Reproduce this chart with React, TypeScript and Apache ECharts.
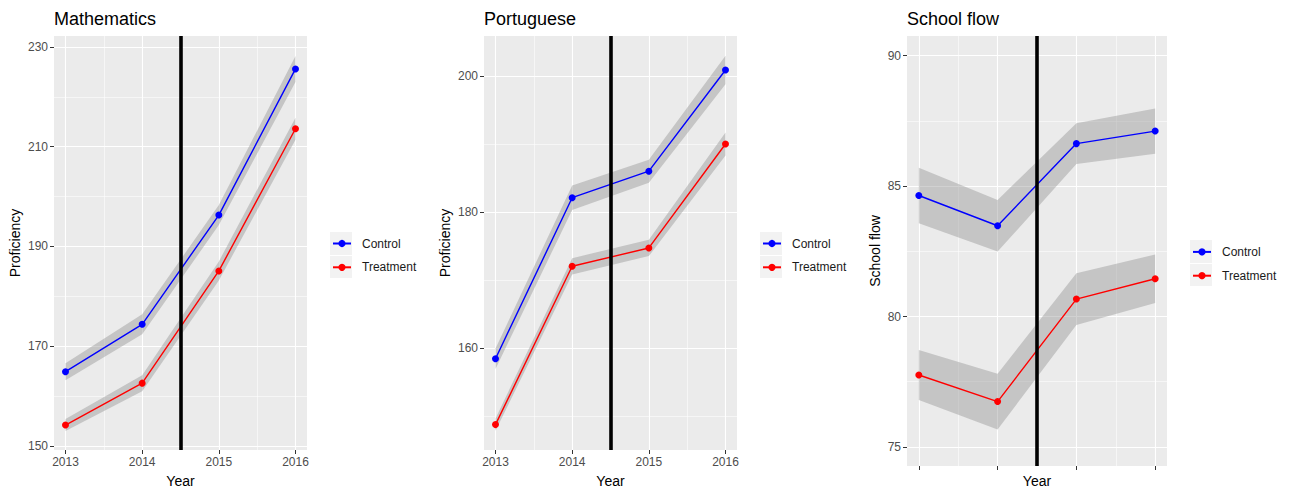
import React, { useEffect, useRef } from 'react';
import * as echarts from 'echarts';

const years = [2013, 2014, 2015, 2016];
const minorYears = [2013.5, 2014.5, 2015.5];
const seriesNames = ['Control', 'Treatment'];
const treatmentStart = 2014.5;

const mathControl = [164.9, 174.4, 196.3, 225.6];
const mathControlCI = [1.7, 2.0, 2.0, 2.6];
const mathTreatment = [154.2, 162.6, 185.1, 213.6];
const mathTreatmentCI = [1.2, 1.6, 1.9, 2.2];
const mathTicks = [150, 170, 190, 210, 230];
const mathMinor = [160, 180, 200, 220];

const portControl = [158.4, 182.1, 186.0, 200.9];
const portControlCI = [1.5, 1.8, 1.7, 2.1];
const portTreatment = [148.7, 172.0, 174.7, 190.0];
const portTreatmentCI = [0.9, 1.2, 1.2, 1.7];
const portTicks = [160, 180, 200];
const portMinor = [150, 170, 190];

const flowControl = [84.64, 83.48, 86.63, 87.11];
const flowControlCI = [1.06, 0.99, 0.78, 0.87];
const flowTreatment = [77.76, 76.74, 80.67, 81.45];
const flowTreatmentCI = [0.96, 1.07, 0.99, 0.93];
const flowTicks = [75, 80, 85, 90];
const flowMinor = [77.5, 82.5, 87.5];

const FONT = "'Liberation Sans', Arial, sans-serif";
const BLUE = '#0000FF';
const RED = '#FF0000';

const panels = [
  {
    title: 'Mathematics', yName: 'Proficiency', showXLabels: true,
    control: mathControl, controlCI: mathControlCI, treatment: mathTreatment, treatmentCI: mathTreatmentCI,
    ticks: mathTicks, minor: mathMinor, yMin: 149.2, yMax: 232.2,
    left: 54, top: 36, width: 253, height: 414, xNameGap: 24, yNameGap: 32,
    legendLeft: 332, legendTop: 237.5, keyTop: 232,
  },
  {
    title: 'Portuguese', yName: 'Proficiency', showXLabels: true,
    control: portControl, controlCI: portControlCI, treatment: portTreatment, treatmentCI: portTreatmentCI,
    ticks: portTicks, minor: portMinor, yMin: 144.96, yMax: 205.9,
    left: 484, top: 36, width: 253, height: 414, xNameGap: 24, yNameGap: 32,
    legendLeft: 762, legendTop: 237.5, keyTop: 232,
  },
  {
    title: 'School flow', yName: 'School flow', showXLabels: false,
    control: flowControl, controlCI: flowControlCI, treatment: flowTreatment, treatmentCI: flowTreatmentCI,
    ticks: flowTicks, minor: flowMinor, yMin: 74.27, yMax: 90.755,
    left: 907, top: 36, width: 260, height: 430, xNameGap: 8, yNameGap: 25,
    legendLeft: 1192, legendTop: 245.9, keyTop: 240,
  },
];

function ribbonSeries(vals: number[], ci: number[], xi: number, yi: number) {
  const data = years.map((y, k) => [y, vals[k] - ci[k], vals[k] + ci[k]]);
  return {
    type: 'custom',
    xAxisIndex: xi,
    yAxisIndex: yi,
    z: 1,
    silent: true,
    data,
    renderItem: (params: any, api: any) => {
      if (params.dataIndex !== 0) return null;
      const upper = data.map((d) => api.coord([d[0], d[2]]));
      const lower = data.map((d) => api.coord([d[0], d[1]])).reverse();
      return {
        type: 'polygon',
        shape: { points: upper.concat(lower) },
        style: { fill: 'rgba(140,140,140,0.4)' },
      };
    },
  };
}

export default function App() {
  const ref = useRef<HTMLDivElement>(null);
  useEffect(() => {
    if (!ref.current) return;
    const chart = echarts.init(ref.current, undefined, { renderer: 'svg' });

    const grid: any[] = [];
    const xAxis: any[] = [];
    const yAxis: any[] = [];
    const series: any[] = [];
    const title: any[] = [];
    const legend: any[] = [];
    const graphic: any[] = [];

    panels.forEach((p, i) => {
      grid.push({
        left: p.left, top: p.top, width: p.width, height: p.height,
        show: true, backgroundColor: '#EBEBEB', borderWidth: 0,
        containLabel: false, outerBoundsMode: 'none',
      });
      const tickStyle = { color: '#333333', width: 1 };
      xAxis.push({
        type: 'value', gridIndex: i, position: 'bottom', min: 2012.85, max: 2016.15,
        axisLine: { show: false },
        axisTick: { show: true, length: 4, lineStyle: tickStyle, customValues: years },
        axisLabel: {
          show: p.showXLabels, customValues: years, color: '#4D4D4D', fontSize: 12, margin: 6,
          fontFamily: FONT, formatter: (v: number) => String(v),
        },
        splitLine: { show: true, lineStyle: { color: '#FFFFFF', width: 1.1 } },
        name: 'Year', nameLocation: 'middle', nameGap: p.xNameGap,
        nameTextStyle: { color: '#000000', fontSize: 14, fontFamily: FONT },
      });
      xAxis.push({
        type: 'value', gridIndex: i, position: 'bottom', min: 2012.85, max: 2016.15,
        axisLine: { show: false },
        axisTick: { show: false, customValues: minorYears },
        axisLabel: { show: false, customValues: minorYears },
        splitLine: { show: true, lineStyle: { color: '#FFFFFF', width: 0.55 } },
      });
      yAxis.push({
        type: 'value', gridIndex: i, position: 'left', min: p.yMin, max: p.yMax,
        axisLine: { show: false },
        axisTick: { show: true, length: 4, lineStyle: tickStyle, customValues: p.ticks },
        axisLabel: {
          show: true, customValues: p.ticks, color: '#4D4D4D', fontSize: 12, margin: 6,
          fontFamily: FONT, formatter: (v: number) => String(v),
        },
        splitLine: { show: true, lineStyle: { color: '#FFFFFF', width: 1.1 } },
        name: p.yName, nameLocation: 'middle', nameGap: p.yNameGap, nameRotate: 90,
        nameTextStyle: { color: '#000000', fontSize: 14, fontFamily: FONT },
      });
      yAxis.push({
        type: 'value', gridIndex: i, position: 'left', min: p.yMin, max: p.yMax,
        axisLine: { show: false },
        axisTick: { show: false, customValues: p.minor },
        axisLabel: { show: false, customValues: p.minor },
        splitLine: { show: true, lineStyle: { color: '#FFFFFF', width: 0.55 } },
      });

      const xi = i * 2;
      const yi = i * 2;
      series.push(ribbonSeries(p.control, p.controlCI, xi, yi));
      series.push(ribbonSeries(p.treatment, p.treatmentCI, xi, yi));
      const lines = [
        { name: seriesNames[0], vals: p.control, color: BLUE },
        { name: seriesNames[1], vals: p.treatment, color: RED },
      ];
      lines.forEach((l) => {
        series.push({
          type: 'line', name: l.name, xAxisIndex: xi, yAxisIndex: yi, z: 3,
          data: years.map((y, k) => [y, l.vals[k]]),
          symbol: 'circle', symbolSize: 7, showSymbol: true,
          itemStyle: { color: l.color },
          lineStyle: { color: l.color, width: 1.4 },
          emphasis: { disabled: true },
        });
      });
      series.push({
        type: 'line', xAxisIndex: xi, yAxisIndex: yi, z: 5, data: [],
        markLine: {
          silent: true, symbol: ['none', 'none'], animation: false,
          label: { show: false },
          lineStyle: { color: '#000000', width: 3.6, type: 'solid' },
          emphasis: { disabled: true },
          data: [{ xAxis: treatmentStart }],
        },
      });

      title.push({
        text: p.title, left: p.left, top: 10, padding: 0,
        textStyle: { color: '#000000', fontSize: 18, fontWeight: 'normal', fontFamily: FONT },
      });
      legend.push({
        data: seriesNames, orient: 'vertical', left: p.legendLeft, top: p.legendTop,
        itemWidth: 18, itemHeight: 9, itemGap: 11.8, selectedMode: false, padding: 0,
        lineStyle: { width: 2 },
        textStyle: { color: '#1A1A1A', fontSize: 12, fontFamily: FONT, padding: [0, 0, 0, 6] },
      });
      const kx = p.legendLeft - 2;
      graphic.push({ type: 'rect', left: kx, top: p.keyTop, z: 0, shape: { width: 22, height: 23 }, style: { fill: '#F2F2F2' } });
      graphic.push({ type: 'rect', left: kx, top: p.keyTop + 24, z: 0, shape: { width: 22, height: 22 }, style: { fill: '#F2F2F2' } });
    });

    chart.setOption({
      animation: false,
      backgroundColor: '#FFFFFF',
      textStyle: { fontFamily: FONT },
      title, grid, xAxis, yAxis, series, legend, graphic,
    });
    return () => chart.dispose();
  }, []);
  return <div ref={ref} style={{ position: 'fixed', left: 0, top: 0, width: 1289, height: 488 }} />;
}
